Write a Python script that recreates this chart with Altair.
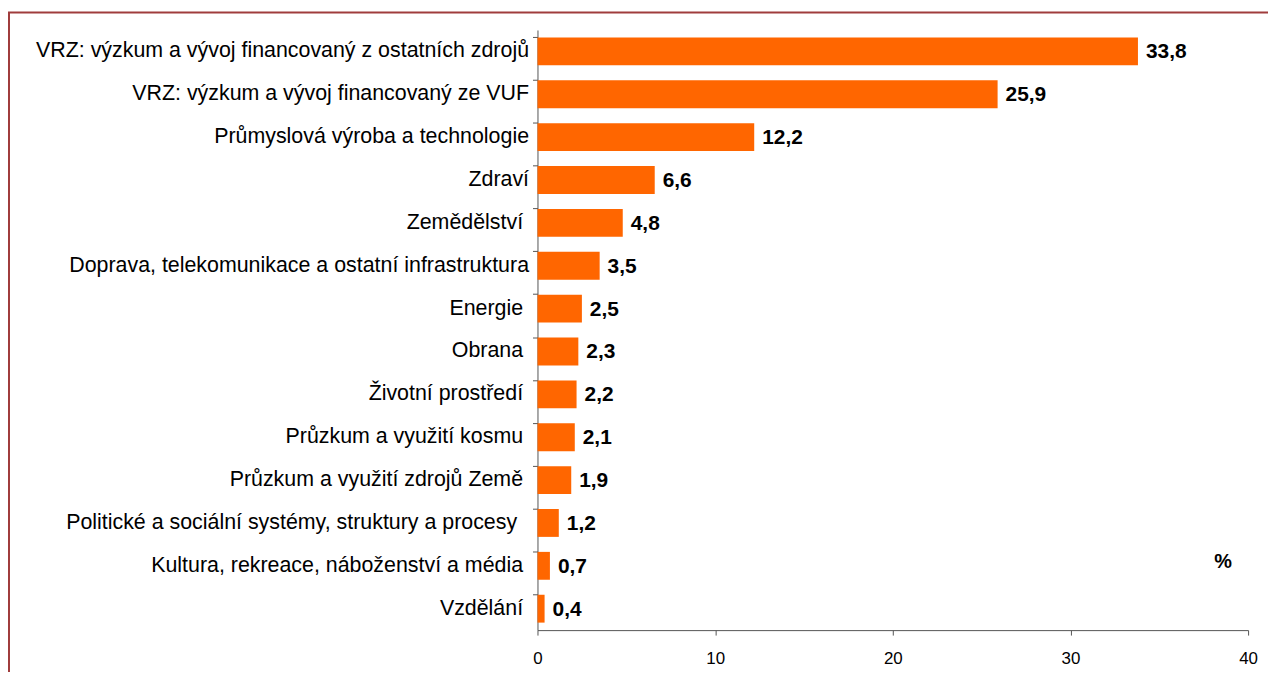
import altair as alt
import pandas as pd

SP = "\u00a0\u200b"  # trailing space kept visible (plain spaces are trimmed)
categories = [
    "VRZ: výzkum a vývoj financovaný z ostatních zdrojů",
    "VRZ: výzkum a vývoj financovaný ze VUF",
    "Průmyslová výroba a technologie",
    "Zdraví",
    "Zemědělství" + SP,
    "Doprava, telekomunikace a ostatní infrastruktura",
    "Energie" + SP,
    "Obrana" + SP,
    "Životní prostředí" + SP,
    "Průzkum a využití kosmu" + SP,
    "Průzkum a využití zdrojů Země" + SP,
    "Politické a sociální systémy, struktury a procesy" + "\u00a0\u00a0\u200b",
    "Kultura, rekreace, náboženství a média" + SP,
    "Vzdělání" + SP,
]
values = [33.8, 25.9, 12.2, 6.6, 4.8, 3.5, 2.5, 2.3, 2.2, 2.1, 1.9, 1.2, 0.7, 0.4]
x_ticks = [0, 10, 20, 30, 40]

df = pd.DataFrame({"cat": categories, "val": values})
df["lab"] = [f"{v:.1f}".replace(".", ",") for v in values]

FONT = "Liberation Sans"
W, H = 714, 603

y_enc = alt.Y("cat:N", sort=None, title=None,
              scale=alt.Scale(paddingInner=0.35, paddingOuter=0.175),
              axis=alt.Axis(bandPosition=0, labelFont=FONT, labelFontSize=21.5,
                            labelColor="black", tickSize=5, tickColor="#555555",
                            domainColor="#555555", labelPadding=4, labelLimit=0))
x_enc = alt.X("val:Q", title=None,
              scale=alt.Scale(domain=[0, 40], nice=False),
              axis=alt.Axis(values=x_ticks, grid=False, labelFont=FONT, labelFontSize=17,
                            labelColor="black", tickSize=5, tickColor="#555555",
                            domainColor="#555555", labelPadding=16, labelFlush=False))

bars = alt.Chart(df).mark_bar(color="#FF6600").encode(y=y_enc, x=x_enc)
texts = alt.Chart(df).mark_text(align="left", baseline="middle", dx=8, dy=1, font=FONT,
                                fontSize=21, fontWeight="bold", color="black").encode(
    y=alt.Y("cat:N", sort=None), x="val:Q", text="lab:N")

pct = alt.Chart(pd.DataFrame({"t": ["%"]})).mark_text(
    font=FONT, fontSize=20, fontWeight="bold", color="black", baseline="middle").encode(
    x=alt.value(689), y=alt.value(535), text="t:N")

border = alt.Chart(pd.DataFrame({"a": [0]})).mark_rect(
    fill=None, stroke="#A03C3C", strokeWidth=2, clip=False).encode(
    x=alt.value(-531), x2=alt.value(900), y=alt.value(-17.5), y2=alt.value(800))

chart = alt.layer(border, bars, texts, pct).properties(
    width=W, height=H,
    autosize=alt.AutoSizeParams(type="none"),
    padding={"left": 532, "top": 20.5, "right": 20, "bottom": 40},
    background="white",
).configure_view(stroke=None)

chart.save("out.html", embed_options={"renderer": "svg", "actions": False})
